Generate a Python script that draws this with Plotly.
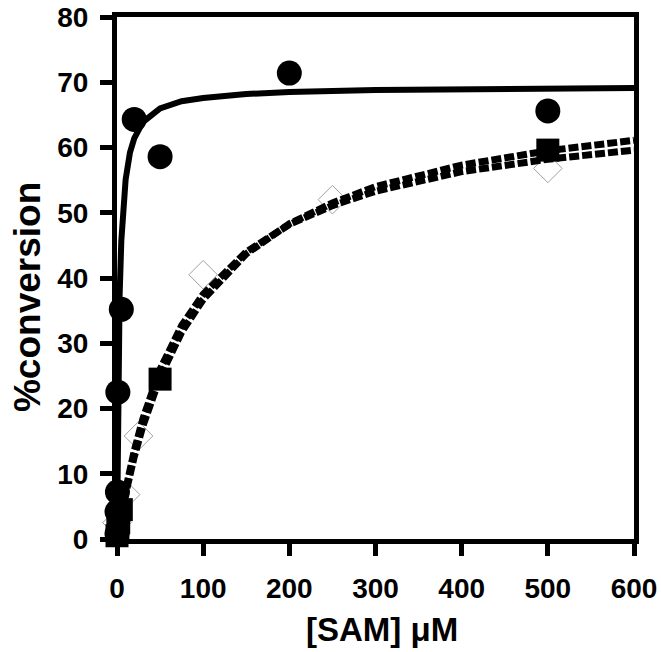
import plotly.graph_objects as go

# measured points
circ_x = [0, 0, 0.5, 1, 5, 20, 50, 200, 500]
circ_y = [0.8, 4.2, 7.2, 22.5, 35.2, 64.3, 58.6, 71.4, 65.6]

sq_x = [0, 1, 2, 5, 50, 500]
sq_y = [0.5, 1.5, 2.5, 4.5, 24.5, 59.6]

dia_x = [0, 10, 25, 100, 250, 500]
dia_y = [2.5, 6.8, 15.8, 40.5, 52.0, 56.8]

# fitted curves
fit_solid_x = [0, 0.5, 1, 2, 3, 5, 7.5, 10, 15, 20, 30, 50, 75, 100, 150, 200, 300, 400, 500, 600]
fit_solid_y = [0, 11.2, 19.3, 30.2, 37.2, 45.7, 51.5, 55.1, 59.2, 61.4, 63.9, 66.0, 67.1, 67.6,
               68.2, 68.5, 68.8, 68.95, 69.05, 69.1]

fit_x = [0, 2, 5, 10, 20, 30, 50, 75, 100, 150, 200, 250, 300, 400, 500, 600]
fit_sq_y = [0, 1.5, 3.6, 6.9, 12.6, 17.3, 24.8, 31.7, 36.7, 43.7, 48.3, 51.5, 54.0, 57.3, 59.5, 61.1]
fit_dia_y = [0, 1.7, 4.0, 7.5, 13.5, 18.4, 26.0, 32.7, 37.5, 44.0, 48.2, 51.1, 53.3, 56.3, 58.2, 59.6]

fig = go.Figure()

# diamonds (under the dashed fits)
fig.add_trace(go.Scatter(x=dia_x, y=dia_y, mode="markers", cliponaxis=False,
                         marker=dict(symbol="diamond", size=22, color="white",
                                     line=dict(color="#a0a0a0", width=1))))
# dashed fits
fig.add_trace(go.Scatter(x=fit_x, y=fit_dia_y, mode="lines", cliponaxis=False,
                         line=dict(color="black", width=7, dash="10px,3px")))
fig.add_trace(go.Scatter(x=fit_x, y=fit_sq_y, mode="lines", cliponaxis=False,
                         line=dict(color="black", width=7, dash="10px,3px")))
# solid fit
fig.add_trace(go.Scatter(x=fit_solid_x, y=fit_solid_y, mode="lines", cliponaxis=False,
                         line=dict(color="black", width=6)))
# squares
fig.add_trace(go.Scatter(x=sq_x, y=sq_y, mode="markers", cliponaxis=False,
                         marker=dict(symbol="square", size=23, color="black")))
# circles
fig.add_trace(go.Scatter(x=circ_x, y=circ_y, mode="markers", cliponaxis=False,
                         marker=dict(symbol="circle", size=25, color="black")))

tick_font = dict(family="Liberation Sans, Arial", size=28, color="black", weight="bold")

fig.update_layout(
    width=661, height=652,
    margin=dict(l=117, r=27, t=17, b=113),
    plot_bgcolor="white", paper_bgcolor="white",
    showlegend=False,
    annotations=[
        dict(text="[SAM] μM", xref="paper", yref="paper", x=0.5126, y=-0.174,
             xanchor="center", yanchor="middle", showarrow=False,
             font=dict(family="Liberation Sans, Arial", size=33, color="black", weight="bold")),
        dict(text="%conversion", xref="paper", yref="paper", x=-0.174, y=0.4636,
             xanchor="center", yanchor="middle", showarrow=False, textangle=-90,
             font=dict(family="Liberation Sans, Arial", size=37, color="black", weight="bold")),
    ],
)

fig.update_xaxes(range=[0, 600], tickvals=[0, 100, 200, 300, 400, 500, 600],
                 showgrid=False, zeroline=False, showline=True, mirror=True, automargin=False,
                 linecolor="black", linewidth=5, ticks="outside", ticklen=12,
                 tickwidth=5, tickcolor="black", tickfont=tick_font, ticklabelstandoff=8,
                 ticklabeloverflow="allow")
fig.update_yaxes(range=[0, 80], tickvals=[0, 10, 20, 30, 40, 50, 60, 70, 80],
                 showgrid=False, zeroline=False, showline=True, mirror=True, automargin=False,
                 linecolor="black", linewidth=5, ticks="outside", ticklen=12,
                 tickwidth=5, tickcolor="black", tickfont=tick_font, ticklabelstandoff=6,
                 ticklabeloverflow="allow")

# drop the default 8px body margin so the figure fills the window
fig.write_html("out.html", config={"displayModeBar": False},
               post_script="document.body.style.margin='0';")
